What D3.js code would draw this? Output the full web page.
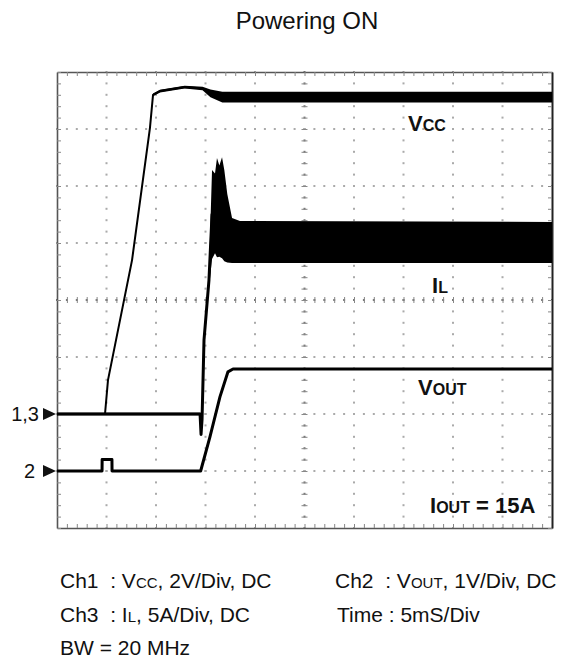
<!DOCTYPE html>
<html>
<head>
<meta charset="utf-8">
<script src="https://cdn.jsdelivr.net/npm/d3@7"></script>
<style>
  body { margin: 0; background: #fff; }
  svg { font-family: Arial, "Liberation Sans", sans-serif; }
  text { white-space: pre; }
</style>
</head>
<body>
<div id="viz"></div>
<script>
// time in ms (5 ms/div, 10 divs)
let vccTime   = [0, 4.85, 5.15, 7.58, 9.39, 9.70, 10.4, 12.9, 14.7, 15.5, 16.7, 50];
let vccVolts  = [0, 0, 1.19, 5.4, 10.04, 11.2, 11.33, 11.47, 11.42, 11.25, 11.12, 11.12];
let vccRipple = [0, 0, 0, 0, 0, 0.05, 0.05, 0.05, 0.06, 0.14, 0.19, 0.19];

let ilTime   = [0, 14.45, 14.55, 14.65, 14.85, 15.35, 15.66, 15.96, 16.16, 16.4, 16.67, 16.9, 17.2, 17.68, 18.48, 50];
let ilAmps   = [0, 0, -1.8, -0.5, 6.5, 11.75, 17.5, 17.6, 18.1, 17.8, 18.1, 17.4, 16.3, 15.22, 15.09, 15.05];
let ilRipple = [0.1, 0.1, 0, 0, 0, 0.75, 3.9, 3.5, 4.35, 4.0, 4.43, 4.0, 3.0, 1.97, 1.84, 1.8];

let voutTime  = [0, 4.55, 4.56, 5.55, 5.56, 14.51, 15.45, 16.46, 17.27, 17.78, 50];
let voutVolts = [0, 0, 0.2, 0.2, 0, 0, 0.6, 1.3, 1.74, 1.79, 1.79];

// channel scales: volts/amps per div and ground position (div from bottom)
let channels = { ch1: { perDiv: 2, ground: 2 }, ch2: { perDiv: 1, ground: 1 }, ch3: { perDiv: 5, ground: 2 } };

let margin = { top: 72, right: 13, bottom: 138, left: 57 };
let width = 565 - margin.left - margin.right,
    height = 666 - margin.top - margin.bottom;

let svg = d3.select('#viz').append('svg')
    .attr('width', 565)
    .attr('height', 666);

let x = d3.scaleLinear().domain([0, 50]).range([margin.left, margin.left + width]);
let y = d3.scaleLinear().domain([0, 8]).range([margin.top + height, margin.top]);
let toDiv = (ch, v) => channels[ch].ground + v / channels[ch].perDiv;

// grid
let grid = svg.append('g');
let minorX = d3.range(0, 50.001, 1), minorY = d3.range(0, 8.001, 0.2);
d3.range(5, 50, 5).forEach(t => {
    grid.selectAll(null).data(minorY).enter().append('rect')
        .attr('x', x(t) - 1).attr('y', d => y(d) - 1)
        .attr('width', 2).attr('height', 2)
        .attr('fill', t === 25 ? '#777' : '#aaa');
});
d3.range(1, 8, 1).forEach(v => {
    grid.selectAll(null).data(minorX).enter().append('rect')
        .attr('x', d => x(d) - 1).attr('y', y(v) - 1)
        .attr('width', 2).attr('height', 2)
        .attr('fill', v === 4 ? '#777' : '#aaa');
});

// centre cross ticks
let cx = svg.append('g').attr('transform', 'translate(0,' + (y(4) - 3) + ')')
    .call(d3.axisBottom(x).tickValues(minorX).tickSize(6).tickFormat(''));
let cy = svg.append('g').attr('transform', 'translate(' + (x(25) - 3) + ',0)')
    .call(d3.axisRight(y).tickValues(minorY).tickSize(6).tickFormat(''));
[cx, cy].forEach(g => {
    g.select('.domain').remove();
    g.selectAll('line').attr('stroke', '#888');
});

// frame with inward ticks
let frame = [
    svg.append('g').attr('transform', 'translate(0,' + y(8) + ')')
        .call(d3.axisBottom(x).tickValues(minorX).tickSize(4).tickSizeOuter(0).tickFormat('')),
    svg.append('g').attr('transform', 'translate(0,' + y(0) + ')')
        .call(d3.axisTop(x).tickValues(minorX).tickSize(4).tickSizeOuter(0).tickFormat('')),
    svg.append('g').attr('transform', 'translate(' + x(0) + ',0)')
        .call(d3.axisRight(y).tickValues(minorY).tickSize(4).tickSizeOuter(0).tickFormat('')),
    svg.append('g').attr('transform', 'translate(' + x(50) + ',0)')
        .call(d3.axisLeft(y).tickValues(minorY).tickSize(4).tickSizeOuter(0).tickFormat(''))
];
frame.forEach(g => {
    g.select('.domain').attr('stroke', '#555').attr('stroke-width', 1.6);
    g.selectAll('line').attr('stroke', '#888');
});
frame[3].select('.domain').attr('stroke', '#222').attr('stroke-width', 2);

// traces
function drawTrace(ch, times, vals, ripple, strokeW) {
    let pts = times.map((t, i) => ({ t: t, v: vals[i], r: ripple ? ripple[i] : 0 }));
    if (ripple) {
        svg.append('path').datum(pts)
            .attr('fill', '#000')
            .attr('d', d3.area()
                .x(d => x(d.t))
                .y0(d => y(toDiv(ch, d.v - d.r)))
                .y1(d => y(toDiv(ch, d.v + d.r))));
    }
    svg.append('path').datum(pts)
        .attr('fill', 'none')
        .attr('stroke', '#000')
        .attr('stroke-width', strokeW)
        .attr('stroke-linejoin', 'round')
        .attr('d', d3.line().x(d => x(d.t)).y(d => y(toDiv(ch, d.v))));
}
drawTrace('ch3', ilTime, ilAmps, ilRipple, 3);
drawTrace('ch1', vccTime, vccVolts, vccRipple, 2);
drawTrace('ch2', voutTime, voutVolts, null, 3);

// labels with small-caps subscripts
function label(xp, yp, parts, big, small, bold) {
    let t = svg.append('text').attr('x', xp).attr('y', yp)
        .attr('font-weight', bold ? 'bold' : 'normal')
        .attr('fill', '#111');
    parts.forEach(p => {
        t.append('tspan').attr('font-size', p[1] ? small : big).text(p[0]);
    });
}
label(408, 131, [['V'], ['CC', 1]], 22, 16, true);
label(432, 293, [['I'], ['L', 1]], 22, 16, true);
label(418, 395, [['V'], ['OUT', 1]], 22, 16, true);
label(430, 513, [['I'], ['OUT', 1], [' = 15A']], 22, 16, true);

// ground markers
let markers = [{ name: '1,3', div: channels.ch1.ground }, { name: '2', div: channels.ch2.ground }];
markers.forEach(m => {
    let yy = y(m.div);
    svg.append('text').attr('x', m.name === '2' ? 35 : 39).attr('y', yy + 7)
        .attr('text-anchor', 'end').attr('font-size', 20).attr('fill', '#111').text(m.name);
    svg.append('path')
        .attr('d', 'M' + (x(0) - 14) + ',' + (yy - 6) + 'L' + (x(0) - 1) + ',' + yy + 'L' + (x(0) - 14) + ',' + (yy + 6) + 'Z')
        .attr('fill', '#111');
});

// title
svg.append('text').attr('x', 307).attr('y', 29)
    .attr('text-anchor', 'middle').attr('font-size', 24).attr('fill', '#111')
    .text('Powering ON');

// legend
label(60, 588, [['Ch1  : V'], ['CC', 1], [', 2V/Div, DC']], 21, 15, false);
label(335, 588, [['Ch2  : V'], ['OUT', 1], [', 1V/Div, DC']], 21, 15, false);
label(60, 622, [['Ch3  : I'], ['L', 1], [', 5A/Div, DC']], 21, 15, false);
label(337, 622, [['Time : 5mS/Div']], 21, 15, false);
label(60, 655, [['BW = 20 MHz']], 21, 15, false);
</script>
</body>
</html>
